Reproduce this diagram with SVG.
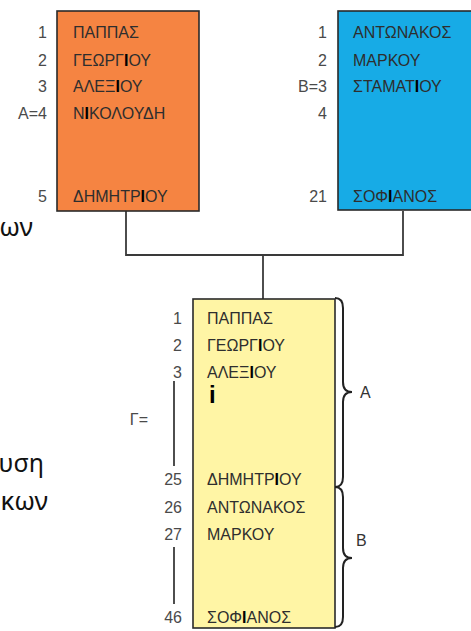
<svg xmlns="http://www.w3.org/2000/svg" width="471" height="631" viewBox="0 0 471 631">
<style>
.box{stroke:#2a2a2a;stroke-width:1.6}
.nm{font-family:"Liberation Sans",Arial,sans-serif;font-size:16px;fill:#2e2e2e}
.num{font-family:"Liberation Sans",Arial,sans-serif;font-size:16px;fill:#4a4a4a;text-anchor:end}
.hi{font-weight:bold;fill:#000}
.frag{font-family:"Noto Sans","Open Sans",sans-serif;font-size:26px;fill:#111;text-anchor:end}
.con{fill:none;stroke:#3a3a3a;stroke-width:1.8}
.brace{fill:none;stroke:#222;stroke-width:2}
.lbl{font-family:"Liberation Sans",Arial,sans-serif;font-size:16px;fill:#333}
</style>
<rect width="471" height="631" fill="#fff"/>
<g id="fragments">
<text class="frag" x="33" y="236">ων</text>
<text class="frag" x="44" y="472" style="font-size:25px">υση</text>
<text class="frag" x="48" y="510">κων</text>
</g>
<g id="connectors">
<polyline class="con" points="126,211 126,255 403,255 403,211"/>
<line class="con" x1="263" y1="255" x2="263" y2="299"/>
</g>
<g id="fileA">
<rect class="box" x="57" y="11" width="142" height="200" fill="#F58442"/>
<text class="num" x="47" y="38">1</text>
<text class="num" x="47" y="66">2</text>
<text class="num" x="47" y="92">3</text>
<text class="num" x="47" y="119">A=4</text>
<text class="num" x="47" y="202">5</text>
<text class="nm" x="73" y="38">ΠΑΠΠΑΣ</text>
<text class="nm" x="73" y="66">ΓΕΩΡΓ<tspan class="hi">Ι</tspan>ΟΥ</text>
<text class="nm" x="73" y="92">ΑΛΕΞ<tspan class="hi">Ι</tspan>ΟΥ</text>
<text class="nm" x="73" y="119">Ν<tspan class="hi">Ι</tspan>ΚΟΛΟΥΔΗ</text>
<text class="nm" x="73" y="202">ΔΗΜΗΤΡ<tspan class="hi">Ι</tspan>ΟΥ</text>
</g>
<g id="fileB">
<rect class="box" x="338" y="11" width="140" height="199" fill="#17ABE6"/>
<text class="num" x="327" y="38">1</text>
<text class="num" x="327" y="66">2</text>
<text class="num" x="327" y="92">B=3</text>
<text class="num" x="327" y="119">4</text>
<text class="num" x="327" y="202">21</text>
<text class="nm" x="353" y="38">ΑΝΤΩΝΑΚΟΣ</text>
<text class="nm" x="353" y="66">ΜΑΡΚΟΥ</text>
<text class="nm" x="353" y="92">ΣΤΑΜΑΤ<tspan class="hi">Ι</tspan>ΟΥ</text>
<text class="nm" x="353" y="202">ΣΟΦ<tspan class="hi">Ι</tspan>ΑΝΟΣ</text>
</g>
<g id="fileG">
<rect class="box" x="193" y="299" width="142" height="329" fill="#FFF5A5"/>
<text class="num" x="182" y="324">1</text>
<text class="num" x="182" y="351">2</text>
<text class="num" x="182" y="378">3</text>
<text class="num" x="182" y="485">25</text>
<text class="num" x="182" y="513">26</text>
<text class="num" x="182" y="540">27</text>
<text class="num" x="182" y="623">46</text>
<text class="num" x="148" y="425">Γ=</text>
<line class="con" x1="174" y1="381" x2="174" y2="466"/>
<line class="con" x1="174" y1="547" x2="174" y2="604"/>
<text class="nm" x="207" y="324">ΠΑΠΠΑΣ</text>
<text class="nm" x="207" y="351">ΓΕΩΡΓ<tspan class="hi">Ι</tspan>ΟΥ</text>
<text class="nm" x="207" y="378">ΑΛΕΞ<tspan class="hi">Ι</tspan>ΟΥ</text>
<text class="nm hi" x="209" y="403" style="font-size:24px">i</text>
<text class="nm" x="207" y="485">ΔΗΜΗΤΡ<tspan class="hi">Ι</tspan>ΟΥ</text>
<text class="nm" x="207" y="513">ΑΝΤΩΝΑΚΟΣ</text>
<text class="nm" x="207" y="540">ΜΑΡΚΟΥ</text>
<text class="nm" x="207" y="623">ΣΟΦ<tspan class="hi">Ι</tspan>ΑΝΟΣ</text>
</g>
<g id="braceA">
<path class="brace" d="M335,298 Q343,298 343,308 L343,382 Q343,392 352,392 Q343,392 343,402 L343,477 Q343,487 335,487"/>
<text class="lbl" x="360" y="398">A</text>
</g>
<g id="braceB">
<path class="brace" d="M335,487 Q343,487 343,497 L343,548 Q343,558 352,558 Q343,558 343,568 L343,617 Q343,627 335,627"/>
<text class="lbl" x="356" y="546">B</text>
</g>
</svg>
